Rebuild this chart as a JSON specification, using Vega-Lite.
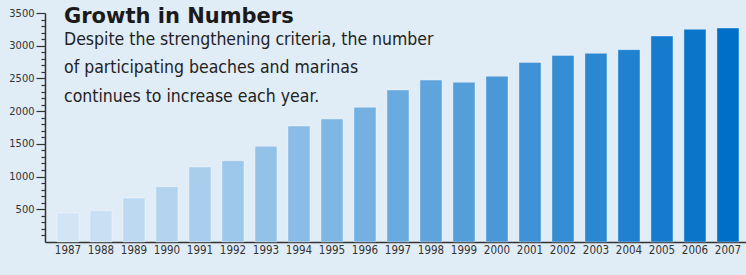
{
  "$schema": "https://vega.github.io/schema/vega-lite/v6.json",
  "width": 701,
  "height": 229,
  "autosize": {"type": "none"},
  "padding": {"left": 45, "top": 13, "right": 0, "bottom": 33},
  "background": "#e0ecf6",
  "config": {"view": {"stroke": null}},
  "title": {
    "text": "Growth in Numbers",
    "subtitle": ["Despite the strengthening criteria, the number", "of participating beaches and marinas", "continues to increase each year."],
    "anchor": "start",
    "frame": "group",
    "offset": 0,
    "dx": 19,
    "dy": 98,
    "font": "DejaVu Sans",
    "fontWeight": "bold",
    "fontSize": 21,
    "color": "#1a1a1a",
    "subtitleFont": "Liberation Sans Narrow, Arial Narrow, DejaVu Sans Condensed, sans-serif",
    "subtitleFontSize": 17.5,
    "subtitleColor": "#222222",
    "subtitleLineHeight": 28.5,
    "subtitlePadding": 4
  },
  "data": {
    "values": [
      {"year": 1987, "count": 443},
      {"year": 1988, "count": 478},
      {"year": 1989, "count": 672},
      {"year": 1990, "count": 845},
      {"year": 1991, "count": 1146},
      {"year": 1992, "count": 1242},
      {"year": 1993, "count": 1462},
      {"year": 1994, "count": 1772},
      {"year": 1995, "count": 1879},
      {"year": 1996, "count": 2058},
      {"year": 1997, "count": 2323},
      {"year": 1998, "count": 2475},
      {"year": 1999, "count": 2440},
      {"year": 2000, "count": 2532},
      {"year": 2001, "count": 2745},
      {"year": 2002, "count": 2852},
      {"year": 2003, "count": 2883},
      {"year": 2004, "count": 2939},
      {"year": 2005, "count": 3148},
      {"year": 2006, "count": 3250},
      {"year": 2007, "count": 3270}
    ]
  },
  "layer": [
    {
      "mark": {"type": "bar", "stroke": "#ffffff", "strokeOpacity": 0.35, "strokeWidth": 1},
      "encoding": {
        "x": {
          "field": "year", "type": "ordinal",
          "scale": {"paddingInner": 0.333, "paddingOuter": 0.288, "align": 0.63},
          "axis": {
            "title": null, "ticks": false, "labelAngle": 0,
            "labelFont": "Liberation Sans Narrow, Arial Narrow, DejaVu Sans Condensed, sans-serif",
            "labelFontSize": 11.5, "labelColor": "#333333", "labelPadding": 2,
            "domainColor": "#333333", "domainWidth": 1.5
          }
        },
        "y": {
          "field": "count", "type": "quantitative",
          "scale": {"domain": [0, 3500], "nice": false},
          "axis": {
            "title": null, "grid": false, "format": "d",
            "values": [500, 1000, 1500, 2000, 2500, 3000, 3500],
            "tickSize": 9, "tickColor": "#333333", "tickWidth": 1.2,
            "labelFont": "Liberation Sans Narrow, Arial Narrow, DejaVu Sans Condensed, sans-serif",
            "labelFontSize": 11, "labelColor": "#333333", "labelPadding": 2,
            "domainColor": "#333333", "domainWidth": 1.5
          }
        },
        "color": {
          "field": "year", "type": "quantitative", "legend": null,
          "scale": {"domain": [1987, 2007], "range": ["#d2e5f6", "#006fc8"], "interpolate": "rgb"}
        }
      }
    },
    {
      "mark": {"type": "bar", "opacity": 0},
      "encoding": {
        "x": {"field": "year", "type": "ordinal"},
        "y": {
          "field": "count", "type": "quantitative",
          "scale": {"domain": [0, 3500], "nice": false},
          "axis": {
            "orient": "left", "title": null, "grid": false, "labels": false, "domain": false,
            "values": [100, 200, 300, 400, 600, 700, 800, 900, 1100, 1200, 1300, 1400, 1600, 1700, 1800, 1900, 2100, 2200, 2300, 2400, 2600, 2700, 2800, 2900, 3100, 3200, 3300, 3400],
            "tickSize": 4, "tickColor": "#333333", "tickWidth": 1.2
          }
        }
      }
    }
  ],
  "resolve": {"scale": {"y": "independent"}}
}
